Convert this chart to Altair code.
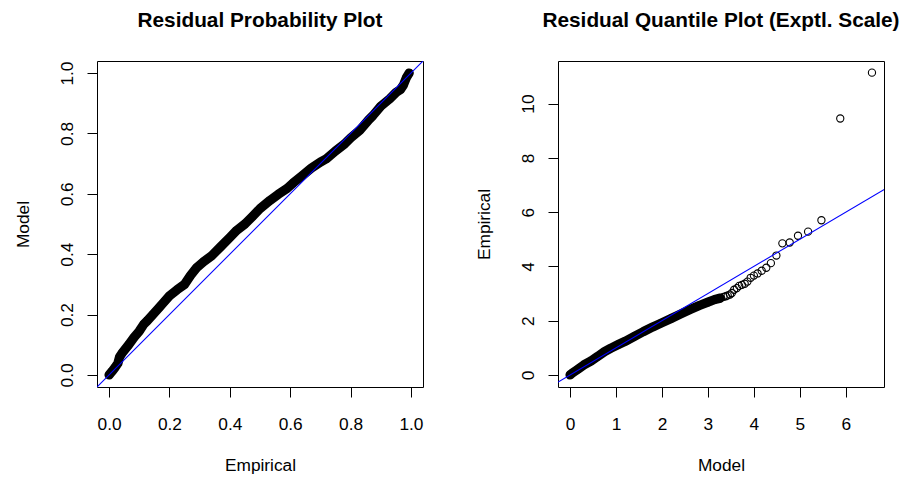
import altair as alt
import pandas as pd

FONT = "Liberation Sans"

# Residual probability plot: empirical probability vs. fitted model CDF
prob_empirical = [0.0, 0.01, 0.02, 0.029, 0.035, 0.045, 0.065, 0.083, 0.10, 0.115,
                  0.127, 0.145, 0.165, 0.185, 0.20, 0.225, 0.25, 0.27, 0.29, 0.313,
                  0.34, 0.37, 0.40, 0.423, 0.45, 0.475, 0.50, 0.533, 0.56, 0.59,
                  0.61, 0.64, 0.67, 0.70, 0.72, 0.75, 0.78, 0.80, 0.83, 0.86,
                  0.874, 0.90, 0.93, 0.951, 0.965, 0.975, 0.985, 0.994]
prob_model = [0.0, 0.012, 0.025, 0.038, 0.06, 0.075, 0.10, 0.125, 0.145, 0.168,
              0.18, 0.20, 0.222, 0.245, 0.262, 0.282, 0.30, 0.33, 0.355, 0.375,
              0.395, 0.425, 0.455, 0.479, 0.50, 0.525, 0.551, 0.578, 0.598, 0.618,
              0.636, 0.66, 0.685, 0.705, 0.716, 0.742, 0.765, 0.785, 0.81, 0.845,
              0.859, 0.89, 0.915, 0.936, 0.945, 0.96, 0.985, 1.0]

# Residual quantile plot (exponential scale): dense body of the sample
qq_model = [0.0, 0.05, 0.17, 0.30, 0.46, 0.60, 0.75, 0.88, 1.05, 1.20, 1.40,
            1.60, 1.80, 1.97, 2.20, 2.40, 2.60, 2.80, 3.00, 3.15, 3.27]
qq_empirical = [0.0, 0.07, 0.21, 0.37, 0.52, 0.68, 0.86, 0.98, 1.12, 1.24, 1.42,
                1.60, 1.77, 1.90, 2.08, 2.24, 2.40, 2.55, 2.68, 2.78, 2.83]

# ... and the sparse upper tail
tail_model = [3.34, 3.39, 3.43, 3.48, 3.52, 3.57, 3.63, 3.68, 3.74, 3.80, 3.86,
              3.93, 4.00, 4.08, 4.17, 4.27, 4.37, 4.49, 4.62, 4.78, 4.96, 5.18,
              5.47, 5.88, 6.57]
tail_empirical = [2.88, 2.90, 2.93, 2.96, 3.02, 3.14, 3.20, 3.28, 3.32, 3.36, 3.44,
                  3.58, 3.66, 3.74, 3.84, 3.95, 4.12, 4.40, 4.85, 4.88, 5.13, 5.28,
                  5.70, 9.45, 11.14]

# y = x reference line end points (clipped to the plot area)
ref_ends = [-1.0, 12.0]

prob_ticks = [0.0, 0.2, 0.4, 0.6, 0.8, 1.0]
qq_x_ticks = [0, 1, 2, 3, 4, 5, 6]
qq_y_ticks = [0, 2, 4, 6, 8, 10]

W = 326
H = 326
LABEL_SIZE = 17.3
TITLE_SIZE = 20.8
BLUE = "#0000ff"

common_axis = dict(
    domain=False, grid=False, ticks=True, tickColor="black", tickSize=10,
    tickWidth=1, labelFont=FONT, labelFontSize=LABEL_SIZE, labelColor="black",
    labelFlush=False, labelOverlap=False, titleFont=FONT,
    titleFontSize=LABEL_SIZE, titleFontWeight="normal", titleColor="black",
)


def x_axis(title, values, fmt):
    return alt.Axis(
        title=title, values=values, format=fmt, labelBaseline="alphabetic",
        labelPadding=32, titleBaseline="alphabetic", titleAlign="center",
        titleX=W / 2, titleY=83, **common_axis,
    )


def y_axis(title, values, fmt):
    return alt.Axis(
        title=title, values=values, format=fmt, labelAngle=270,
        labelAlign="center", labelBaseline="alphabetic", labelPadding=15,
        titleAngle=270, titleAlign="center", titleBaseline="alphabetic",
        titleX=-69, titleY=H / 2, **common_axis,
    )


def panel_title(text):
    return alt.TitleParams(
        text=text, font=FONT, fontSize=TITLE_SIZE, fontWeight="bold",
        color="black", anchor="middle", baseline="alphabetic", offset=13,
    )


def scatter_panel(points, x_field, y_field, band, x_scale, y_scale,
                  x_ax, y_ax, title):
    x_enc = alt.X(f"{x_field}:Q", scale=x_scale, axis=x_ax)
    y_enc = alt.Y(f"{y_field}:Q", scale=y_scale, axis=y_ax)

    # heavily overplotted body of the sample
    band_layer = alt.Chart(band).mark_line(
        stroke="black", strokeWidth=9.3, strokeCap="round", strokeJoin="round",
        clip=True,
    ).encode(x=x_enc, y=y_enc)

    point_layer = alt.Chart(points).mark_point(
        shape="circle", filled=False, size=52, stroke="black", strokeWidth=1.1,
        opacity=1, clip=True,
    ).encode(x=alt.X(f"{x_field}:Q", scale=x_scale),
             y=alt.Y(f"{y_field}:Q", scale=y_scale))

    ref = pd.DataFrame({"ref_x": ref_ends, "ref_y": ref_ends})
    ref_layer = alt.Chart(ref).mark_line(
        stroke=BLUE, color=BLUE, strokeWidth=1.1, opacity=1, clip=True,
    ).encode(x=alt.X("ref_x:Q", scale=x_scale),
             y=alt.Y("ref_y:Q", scale=y_scale))

    return alt.layer(band_layer, point_layer, ref_layer).properties(
        width=W, height=H, title=title,
    )


prob_df = pd.DataFrame({"Empirical": prob_empirical, "Model": prob_model})
left = scatter_panel(
    prob_df, "Empirical", "Model", prob_df,
    alt.Scale(domain=[-0.04, 1.04], nice=False, zero=False),
    alt.Scale(domain=[-0.04, 1.04], nice=False, zero=False),
    x_axis("Empirical", prob_ticks, ".1f"),
    y_axis("Model", prob_ticks, ".1f"),
    panel_title("Residual Probability Plot"),
)

qq_body = pd.DataFrame({"Model": qq_model, "Empirical": qq_empirical})
qq_all = pd.DataFrame({"Model": qq_model + tail_model,
                       "Empirical": qq_empirical + tail_empirical})
right = scatter_panel(
    qq_all, "Model", "Empirical", qq_body,
    alt.Scale(domain=[-0.263, 6.832], nice=False, zero=False),
    alt.Scale(domain=[-0.445, 11.57], nice=False, zero=False),
    x_axis("Model", qq_x_ticks, "d"),
    y_axis("Empirical", qq_y_ticks, "d"),
    panel_title("Residual Quantile Plot (Exptl. Scale)"),
)

chart = alt.hconcat(left, right, spacing=50).properties(
    padding={"left": 13, "top": 9, "right": 0, "bottom": 0},
    background="white",
).configure_view(stroke="black", strokeWidth=1)

chart.save("out.html", embed_options={"renderer": "svg", "actions": False})
